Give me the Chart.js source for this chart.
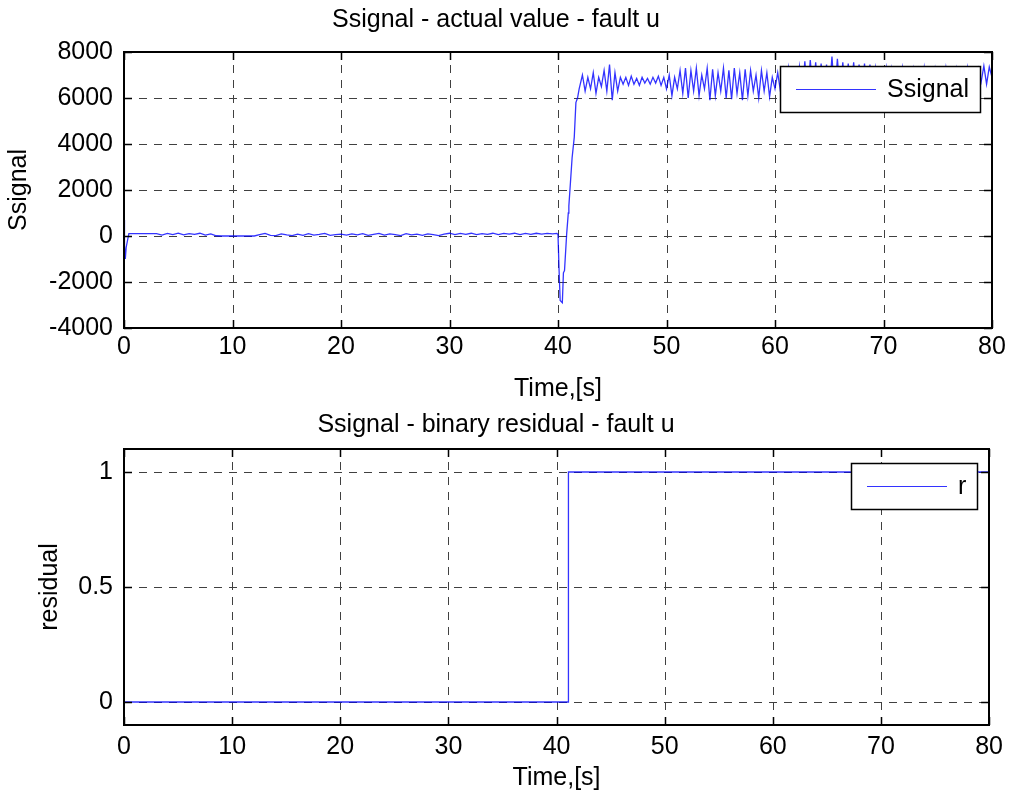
<!DOCTYPE html>
<html>
<head>
<meta charset="utf-8">
<title>Ssignal - fault u</title>
<script src="https://cdn.jsdelivr.net/npm/chart.js@4.4.1/dist/chart.umd.min.js"></script>
<style>
  html, body { margin: 0; padding: 0; background: #fff; }
  .plot { position: absolute; left: 0; width: 1010px; }
  #top { top: 0; height: 408px; }
  #bottom { top: 408px; height: 390px; }
</style>
</head>
<body>
<div class="plot" id="top"><canvas id="sigChart"></canvas></div>
<div class="plot" id="bottom"><canvas id="resChart"></canvas></div>
<script>
// Ssignal, actual value (time in s)
const sigTime = [
  0, 0.03, 0.06, 0.12, 0.2, 0.3, 0.45, 0.6,
  1, 1.5, 2, 2.5, 3, 3.5, 4, 4.5, 5, 5.5,
  6, 6.5, 7, 7.5, 8, 8.5, 9, 9.5, 10, 10.5,
  11, 11.5, 12, 12.5, 13, 13.5, 14, 14.5, 15, 15.5,
  16, 16.5, 17, 17.5, 18, 18.5, 19, 19.5, 20, 20.5,
  21, 21.5, 22, 22.5, 23, 23.5, 24, 24.5, 25, 25.5,
  26, 26.5, 27, 27.5, 28, 28.5, 29, 29.5, 30, 30.5,
  31, 31.5, 32, 32.5, 33, 33.5, 34, 34.5, 35, 35.5,
  36, 36.5, 37, 37.5, 38, 38.5, 39, 39.5, 39.9,
  40, 40.1, 40.2, 40.4, 40.5, 40.6, 40.8, 40.95, 41, 41.15, 41.3, 41.5, 41.65, 41.8, 41.95,
  42.25, 42.5, 42.75, 43, 43.25, 43.5, 43.75, 44,
  44.25, 44.5, 44.75, 45, 45.25, 45.5, 45.75, 46,
  46.25, 46.5, 46.75, 47, 47.25, 47.5, 47.75, 48,
  48.25, 48.5, 48.75, 49, 49.25, 49.5, 49.75, 50,
  50.25, 50.5, 50.75, 51, 51.25, 51.5, 51.75, 52,
  52.25, 52.5, 52.75, 53, 53.25, 53.5, 53.75, 54,
  54.25, 54.5, 54.75, 55, 55.25, 55.5, 55.75, 56,
  56.25, 56.5, 56.75, 57, 57.25, 57.5, 57.75, 58,
  58.25, 58.5, 58.75, 59, 59.25, 59.5, 59.75, 60,
  60.25, 60.5, 60.75, 61, 61.25, 61.5, 61.75, 62,
  62.25, 62.5, 62.75, 63, 63.25, 63.5, 63.75, 64,
  64.25, 64.5, 64.75, 65, 65.25, 65.5, 65.75, 66,
  66.25, 66.5, 66.75, 67, 67.25, 67.5, 67.75, 68,
  68.25, 68.5, 68.75, 69, 69.25, 69.5, 69.75, 70,
  70.25, 70.5, 70.75, 71, 71.25, 71.5, 71.75, 72,
  72.25, 72.5, 72.75, 73, 73.25, 73.5, 73.75, 74,
  74.25, 74.5, 74.75, 75, 75.25, 75.5, 75.75, 76,
  76.25, 76.5, 76.75, 77, 77.25, 77.5, 77.75, 78,
  78.25, 78.5, 78.75, 79, 79.25, 79.5, 79.75, 80
];
const sigValue = [
  0, 700, -400, -1000, -500, -250, 100, 100,
  100, 100, 100, 100, 100, 40, 110, 60, 120, 50,
  100, 70, 120, 40, 90, 10, 0, 0, 0, 0,
  0, 0, 0, 60, 110, 30, 20, 90, 50, 20,
  80, 30, 100, 40, 70, 110, 30, 60, 80, 40,
  90, 50, 100, 30, 70, 110, 40, 90, 60, 20,
  100, 50, 80, 30, 90, 60, 20, 80, 120, 60,
  110, 70, 120, 60, 100, 70, 120, 60, 110, 80,
  120, 60, 110, 70, 120, 80, 110, 90, 110,
  60, -1500, -2800, -2900, -1600, -1500, 100, 1000, 1300, 2350, 3400, 4300, 5800, 6000, 6400,
  7000, 6300, 6900, 6400, 7100, 6200, 6900, 6500,
  7200, 6300, 7450, 5900, 7100, 6300, 6900, 6600,
  6900, 6550, 6950, 6600, 6850, 6550, 6900, 6650,
  6850, 6600, 6900, 6650, 6950, 6550, 6900, 6400,
  7000, 6100, 6900, 6400, 7200, 6200, 7300, 6000,
  7200, 6300, 7300, 6100, 7000, 6400, 7300, 5900,
  7250, 6100, 7100, 6300, 7300, 6000, 7200, 5950,
  7300, 6200, 7100, 5900, 7250, 6100, 7200, 6300,
  7000, 6000, 7200, 6300, 7100, 6050, 6900, 6400,
  7100, 6300, 7200, 6200, 7300, 6300, 7100, 6200,
  7350, 6200, 7600, 6100, 7650, 6300, 7550, 6200,
  7500, 6300, 7450, 6200, 7800, 6100, 7700, 6300,
  7550, 6200, 7500, 6300, 7550, 6200, 7450, 6300,
  7500, 6200, 7450, 6300, 7300, 6300, 7200, 6400,
  7300, 6200, 7250, 6300, 7200, 6400, 7300, 6200,
  7100, 6400, 7250, 6300, 7200, 6300, 7300, 6200,
  7100, 6400, 7250, 6300, 7200, 6400, 7300, 6300,
  7100, 6300, 7250, 6400, 7200, 6300, 7300, 6400,
  7150, 6300, 7250, 6700, 7400, 6600, 7350, 6900
];

// binary residual r
const resTime = [0, 41.1, 41.1, 80];
const resValue = [0, 0, 1, 1];

const timeTicks = [0, 10, 20, 30, 40, 50, 60, 70, 80];
const sigTicks = [-4000, -2000, 0, 2000, 4000, 6000, 8000];
const resTicks = [0, 0.5, 1];

const FONT = '"Liberation Sans", Arial, Helvetica, sans-serif';
const LINE_BLUE = 'rgba(0, 0, 255, 0.8)';
Chart.defaults.font.family = FONT;
Chart.defaults.font.size = 25;
Chart.defaults.color = '#000';

// dashed grid under the data, solid box and inward ticks over it
const matlabAxes = {
  id: 'matlabAxes',
  beforeDatasetsDraw(chart) {
    const { ctx, chartArea: a, scales: { x, y } } = chart;
    ctx.save();
    ctx.strokeStyle = '#404040';
    ctx.lineWidth = 1;
    ctx.setLineDash([8, 7]);
    ctx.beginPath();
    x.ticks.forEach(t => {
      const px = Math.round(x.getPixelForValue(t.value)) + 0.5;
      if (px > a.left + 2 && px < a.right - 2) {
        ctx.moveTo(px, a.bottom);
        ctx.lineTo(px, a.top);
      }
    });
    y.ticks.forEach(t => {
      const py = Math.round(y.getPixelForValue(t.value)) + 0.5;
      if (py > a.top + 2 && py < a.bottom - 2) {
        ctx.moveTo(a.left, py);
        ctx.lineTo(a.right, py);
      }
    });
    ctx.stroke();
    ctx.restore();
  },
  afterDatasetsDraw(chart) {
    const { ctx, chartArea: a, scales: { x, y } } = chart;
    const len = 8;
    ctx.save();
    ctx.strokeStyle = '#000';
    ctx.lineWidth = 1.5;
    ctx.beginPath();
    x.ticks.forEach(t => {
      const px = Math.round(x.getPixelForValue(t.value)) + 0.5;
      ctx.moveTo(px, a.bottom); ctx.lineTo(px, a.bottom - len);
      ctx.moveTo(px, a.top); ctx.lineTo(px, a.top + len);
    });
    y.ticks.forEach(t => {
      const py = Math.round(y.getPixelForValue(t.value)) + 0.5;
      ctx.moveTo(a.left, py); ctx.lineTo(a.left + len, py);
      ctx.moveTo(a.right, py); ctx.lineTo(a.right - len, py);
    });
    ctx.stroke();
    ctx.lineWidth = 2;
    ctx.strokeRect(Math.round(a.left), Math.round(a.top), Math.round(a.width), Math.round(a.height));
    ctx.restore();
  }
};

// legend box in the upper right corner of the axes
const boxLegend = {
  id: 'boxLegend',
  afterDatasetsDraw(chart) {
    const ds = chart.data.datasets[0];
    const { ctx, chartArea: a } = chart;
    ctx.save();
    ctx.font = '25px ' + FONT;
    const tw = ctx.measureText(ds.label).width;
    const w = Math.round(16 + 80 + 11 + tw + 11);
    const h = 46;
    const left = Math.round(a.right - 12 - w);
    const top = Math.round(a.top + 14);
    ctx.fillStyle = '#fff';
    ctx.fillRect(left, top, w, h);
    ctx.strokeStyle = '#000';
    ctx.lineWidth = 1.5;
    ctx.strokeRect(left + 0.5, top + 0.5, w, h);
    ctx.strokeStyle = ds.borderColor;
    ctx.lineWidth = 1;
    ctx.beginPath();
    ctx.moveTo(left + 16, top + h / 2 + 0.5);
    ctx.lineTo(left + 96, top + h / 2 + 0.5);
    ctx.stroke();
    ctx.fillStyle = '#000';
    ctx.textBaseline = 'middle';
    ctx.fillText(ds.label, left + 107, top + h / 2 + 1);
    ctx.restore();
  }
};

function timeAxis(height, tickPad, titlePad) {
  return {
    type: 'linear',
    min: 0,
    max: 80,
    afterBuildTicks: axis => { axis.ticks = timeTicks.map(v => ({ value: v })); },
    afterFit: axis => { axis.height = height; },
    ticks: { padding: tickPad, autoSkip: false, maxRotation: 0, minRotation: 0, callback: v => String(v) },
    grid: { display: false, drawTicks: false },
    border: { display: false },
    title: { display: true, text: 'Time,[s]', padding: { top: 0, bottom: titlePad } }
  };
}

function valueAxis(min, max, tickList, label, titlePad) {
  return {
    min: min,
    max: max,
    afterBuildTicks: axis => { axis.ticks = tickList.map(v => ({ value: v })); },
    afterFit: axis => { axis.width = 124; },
    ticks: { padding: 11, autoSkip: false, callback: v => String(v) },
    grid: { display: false, drawTicks: false },
    border: { display: false },
    title: { display: true, text: label, padding: { top: titlePad, bottom: 0 } }
  };
}

function makeChart(id, opts) {
  return new Chart(document.getElementById(id), {
    type: 'line',
    data: {
      datasets: [{
        label: opts.label,
        data: opts.xs.map((t, i) => ({ x: t, y: opts.ys[i] })),
        borderColor: LINE_BLUE,
        borderWidth: 1.3,
        pointRadius: 0,
        tension: 0,
        fill: false
      }]
    },
    options: {
      responsive: true,
      maintainAspectRatio: false,
      animation: false,
      events: [],
      layout: { padding: { left: 0, right: 18, top: 0, bottom: 0 } },
      plugins: {
        legend: { display: false },
        tooltip: { enabled: false },
        title: {
          display: true,
          text: opts.title,
          color: '#000',
          font: { size: 25, weight: 'normal' },
          padding: opts.titlePad
        }
      },
      scales: {
        x: timeAxis(opts.xHeight, opts.xTickPad, opts.xTitlePad),
        y: valueAxis(opts.min, opts.max, opts.ticks, opts.yLabel, opts.yTitlePad)
      }
    },
    plugins: [matlabAxes, boxLegend]
  });
}

makeChart('sigChart', {
  label: 'Ssignal',
  title: 'Ssignal - actual value - fault u',
  xs: sigTime,
  ys: sigValue,
  min: -4000,
  max: 8000,
  ticks: sigTicks,
  yLabel: 'Ssignal',
  titlePad: { top: 5, bottom: 17 },
  xHeight: 80,
  xTickPad: 4,
  xTitlePad: 4,
  yTitlePad: 4
});

makeChart('resChart', {
  label: 'r',
  title: 'Ssignal - binary residual - fault u',
  xs: resTime,
  ys: resValue,
  min: -0.1,
  max: 1.1,
  ticks: resTicks,
  yLabel: 'residual',
  titlePad: { top: 2, bottom: 9 },
  xHeight: 73,
  xTickPad: 7,
  xTitlePad: 5,
  yTitlePad: 35
});
</script>
</body>
</html>
